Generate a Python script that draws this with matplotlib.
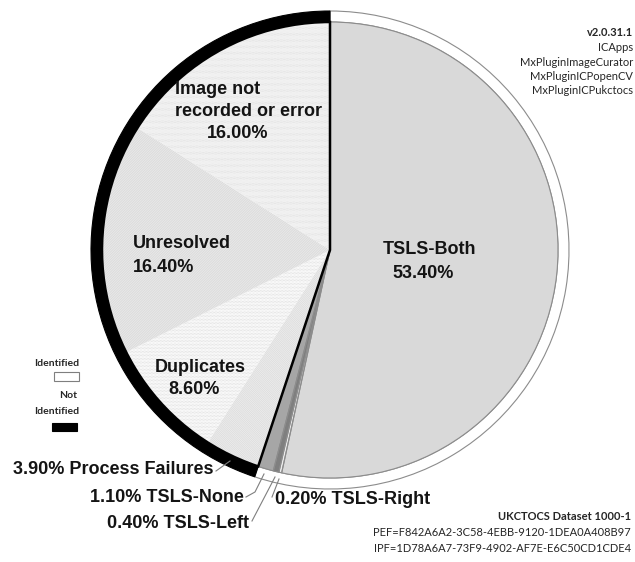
import matplotlib
matplotlib.use('Agg')
import matplotlib.pyplot as plt
from matplotlib.patches import Rectangle

plt.rcParams['hatch.linewidth'] = 0.4

W, H = 635, 562
CX, CY = 330, 250
R_OUT, R_IN = 239, 228

# slices, clockwise from 12 o'clock
categories = ['TSLS-Both', 'TSLS-Right', 'TSLS-Left', 'TSLS-None',
              'Process Failures', 'Duplicates', 'Unresolved', 'Image not recorded or error']
shares = [53.4, 0.2, 0.4, 1.1, 3.9, 8.6, 16.4, 16.0]
identified = [True, True, True, True, False, False, False, False]

group_names = ['Identified', 'Not Identified']
group_shares = [sum(s for s, i in zip(shares, identified) if i),
                sum(s for s, i in zip(shares, identified) if not i)]

face_colors = ['#d9d9d9', '#ececec', '#7f7f7f', '#a6a6a6',
               '#f0f0f0', '#ffffff', '#f3f3f3', '#ffffff']
hatches = [None, None, None, None, '\\' * 18, '.' * 12, '/' * 20, '.' * 14]
hatch_colors = ['#d9d9d9', '#ececec', '#7f7f7f', '#a6a6a6',
                '#d6d6d6', '#d2d2d2', '#d0d0d0', '#cccccc']

# label text: (lines, x of each line, y of each line)
inner_labels = {
    'TSLS-Both': (['TSLS-Both', '53.40%'], [383, 392], [250, 273]),
    'Image not recorded or error': (['Image not', 'recorded or error', '16.00%'],
                                    [175, 175, 207], [90, 112, 133]),
    'Unresolved': (['Unresolved', '16.40%'], [133, 133], [243, 268]),
    'Duplicates': (['Duplicates', '8.60%'], [155, 168], [367, 390]),
}
outer_labels = {
    'Process Failures': ('3.90% Process Failures', 13, 470, [(216, 471), (230, 461)]),
    'TSLS-None': ('1.10% TSLS-None', 90, 497, [(246, 497), (255, 492), (264, 474)]),
    'TSLS-Left': ('0.40% TSLS-Left', 107, 523, [(252, 521), (275, 477)]),
    'TSLS-Right': ('0.20% TSLS-Right', 275, 500, [(272, 497), (279, 479)]),
}

build_lines = ['v2.0.31.1', 'ICApps', 'MxPluginImageCurator',
               'MxPluginICPopenCV', 'MxPluginICPukctocs']
dataset_lines = ['UKCTOCS Dataset 1000-1',
                 'PEF=F842A6A2-3C58-4EBB-9120-1DEA0A408B97',
                 'IPF=1D78A6A7-73F9-4902-AF7E-E6C50CD1CDE4']

fig = plt.figure(figsize=(W / 100, H / 100), dpi=100)
ax = fig.add_axes([0, 0, 1, 1])

# y axis runs top-down, so startangle=-90 + counterclock gives clockwise from the top
pie_kw = dict(center=(CX, CY), startangle=-90, counterclock=True)

# outer identified / not identified ring
ring, _ = ax.pie(group_shares, radius=R_OUT, colors=['white', 'black'],
                 wedgeprops=dict(width=R_OUT - R_IN, linewidth=0.8), **pie_kw)
ring[0].set_edgecolor('#8c8c8c')
ring[1].set_edgecolor('black')

# slice fills
fills, _ = ax.pie(shares, radius=R_IN, colors=face_colors, hatch=hatches,
                  wedgeprops=dict(linewidth=0), **pie_kw)
for w, hc in zip(fills, hatch_colors):
    w.set_edgecolor(hc)

# thin grey outlines on the identified slices
outl, _ = ax.pie(shares, radius=R_IN, wedgeprops=dict(fill=False, linewidth=0.8,
                                                      edgecolor='#8c8c8c'), **pie_kw)
for w, ok in zip(outl, identified):
    w.set_visible(ok)

# black outline around the not-identified group
grp, _ = ax.pie(group_shares, radius=R_IN, wedgeprops=dict(fill=False, linewidth=1.8,
                                                           edgecolor='black'), **pie_kw)
grp[0].set_visible(False)

ax.set_xlim(0, W)
ax.set_ylim(H, 0)
ax.set_aspect('auto')
ax.axis('off')

big = dict(family='Liberation Sans', fontweight='bold', fontsize=13,
           color='#141414', va='center', ha='left')
for name, (lines, xs, ys) in inner_labels.items():
    for t, x, y in zip(lines, xs, ys):
        ax.text(x, y, t, **big)

for name, (t, x, y, pts) in outer_labels.items():
    ax.text(x, y, t, **big)
    ax.plot([p[0] for p in pts], [p[1] for p in pts], color='#7f7f7f', lw=0.8)

small = dict(family='Lato', fontsize=7.5, color='#262626', va='center')
# legend
ax.text(79, 363, 'Identified', ha='right', fontweight='bold', **small)
ax.add_patch(Rectangle((54, 372), 25, 9, facecolor='white', edgecolor='#7f7f7f', lw=0.8))
ax.text(77, 396, 'Not', ha='right', fontweight='bold', **small)
ax.text(79, 412, 'Identified', ha='right', fontweight='bold', **small)
ax.add_patch(Rectangle((52, 423), 25, 8, facecolor='black', edgecolor='black', lw=0.8))

info = dict(family='Lato', fontsize=8, color='#262626', va='center', ha='right')
for i, t in enumerate(build_lines):
    ax.text(633, 33 + i * 14.5, t, fontweight='bold' if i == 0 else 'normal', **info)
for i, t in enumerate(dataset_lines):
    ax.text(631, 517 + i * 16, t, fontweight='bold' if i == 0 else 'normal', **info)

fig.savefig('out.png', dpi=100)
